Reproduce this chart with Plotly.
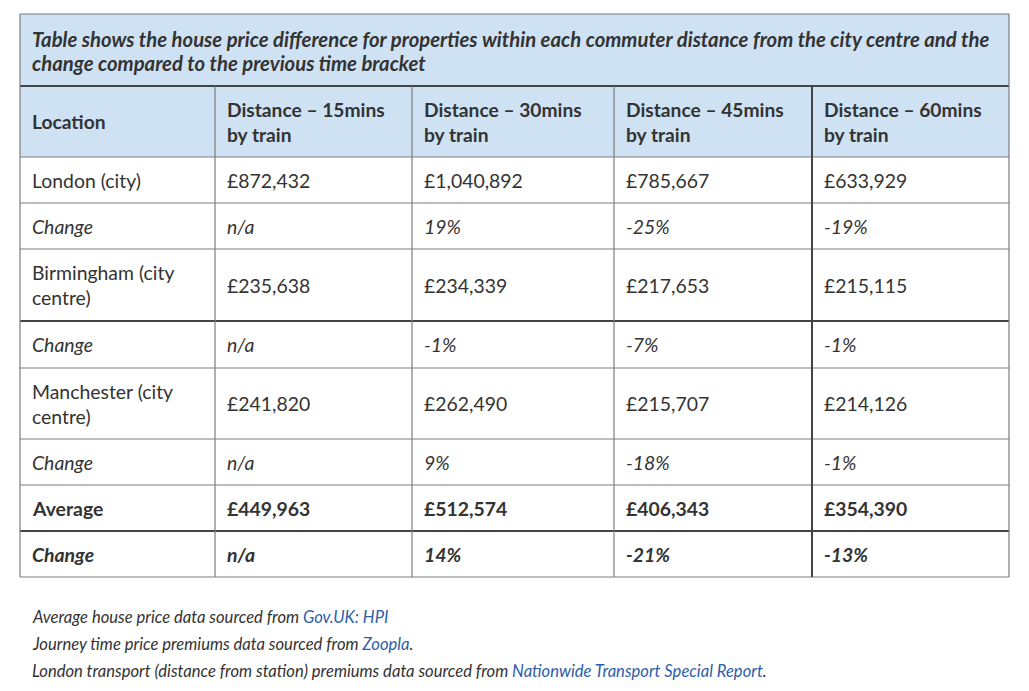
import plotly.graph_objects as go

# ---------------- data ----------------
title_lines = [
    "Table shows the house price difference for properties within each commuter distance from the city centre and the",
    "change compared to the previous time bracket",
]
header = ["Location", "Distance – 15mins\nby train", "Distance – 30mins\nby train",
          "Distance – 45mins\nby train", "Distance – 60mins\nby train"]
row_labels = ["London (city)", "Change", "Birmingham (city\ncentre)", "Change",
              "Manchester (city\ncentre)", "Change", "Average", "Change"]
col_15 = ["£872,432", "n/a", "£235,638", "n/a", "£241,820", "n/a", "£449,963", "n/a"]
col_30 = ["£1,040,892", "19%", "£234,339", "-1%", "£262,490", "9%", "£512,574", "14%"]
col_45 = ["£785,667", "-25%", "£217,653", "-7%", "£215,707", "-18%", "£406,343", "-21%"]
col_60 = ["£633,929", "-19%", "£215,115", "-1%", "£214,126", "-1%", "£354,390", "-13%"]
row_style = ["normal", "italic", "normal", "italic", "normal", "italic", "bold", "bolditalic"]
footnotes = [
    ("Average house price data sourced from ", "Gov.UK: HPI", ""),
    ("Journey time price premiums data sourced from ", "Zoopla", "."),
    ("London transport (distance from station) premiums data sourced from ", "Nationwide Transport Special Report", "."),
]

# ---------------- layout / style ----------------
OFF = 8  # page body margin
W, H = 1029 - OFF, 691 - OFF
FONT = "Lato"
TXT = "#333333"
LINK = "#2d5ea8"
HEAD_BG = "#cfe2f3"
GREY = "#7c7c7c"
DARK = "#444444"
col_edges = [x - OFF for x in [20, 215, 412, 614, 812, 1009]]
title_top, title_bot = 14 - OFF, 86 - OFF
head_bot = 157 - OFF
row_heights = [46, 46, 72, 47, 71, 46, 46, 46]
dark_h_after = {2, 6}
dark_v = {4}
PAD = 10
LH = 25
FS_BODY = 19.4
FS_HEAD = 19.2
FS_TITLE = 20.3
FS_FOOT = 16.6
title_y0, title_lh = 39 - OFF, 24
foot_y0, foot_lh = 617 - OFF, 27

columns = [row_labels, col_15, col_30, col_45, col_60]

fig = go.Figure()
shapes = []
ann = []

row_edges = [head_bot]
for h in row_heights:
    row_edges.append(row_edges[-1] + h)
bottom = row_edges[-1]

shapes.append(dict(type="rect", x0=col_edges[0], x1=col_edges[-1], y0=title_top, y1=head_bot,
                   fillcolor=HEAD_BG, line=dict(width=0), layer="below"))


def hline(y, c, w):
    shapes.append(dict(type="line", x0=col_edges[0], x1=col_edges[-1], y0=y, y1=y,
                       line=dict(color=c, width=w)))


def vline(x, y0, y1, c, w):
    shapes.append(dict(type="line", x0=x, x1=x, y0=y0, y1=y1, line=dict(color=c, width=w)))


hline(title_top, GREY, 1.2)
hline(title_bot, DARK, 2)
for i, y in enumerate(row_edges):
    if i > 0 and (i - 1) in dark_h_after:
        hline(y, DARK, 2)
    else:
        hline(y, GREY, 1.2)
vline(col_edges[0], title_top, bottom, GREY, 1.2)
vline(col_edges[-1], title_top, bottom, GREY, 1.2)
for j in range(1, len(col_edges) - 1):
    vline(col_edges[j], title_bot, bottom, DARK if j in dark_v else GREY, 2 if j in dark_v else 1.2)


def add_text(x, yc, text, style, size, color=TXT):
    lines = text.split("\n")
    n = len(lines)
    for k, ln in enumerate(lines):
        y = yc + (k - (n - 1) / 2) * LH
        t = ln
        if style in ("bold", "bolditalic"):
            t = "<b>" + t + "</b>"
        if style in ("italic", "bolditalic"):
            t = "<i>" + t + "</i>"
        ann.append(dict(x=x, y=y, xref="x", yref="y", text=t, showarrow=False,
                        xanchor="left", yanchor="middle",
                        font=dict(family=FONT, size=size, color=color)))


for k, ln in enumerate(title_lines):
    ann.append(dict(x=col_edges[0] + PAD, y=title_y0 + k * title_lh, xref="x", yref="y",
                    text="<b><i>" + ln + "</i></b>", showarrow=False,
                    xanchor="left", yanchor="middle",
                    font=dict(family=FONT, size=FS_TITLE, color=TXT)))

hy = (title_bot + head_bot) / 2
for j, h in enumerate(header):
    add_text(col_edges[j] + PAD, hy, h, "bold", FS_HEAD)

for i in range(len(row_labels)):
    yc = (row_edges[i] + row_edges[i + 1]) / 2
    for j, col in enumerate(columns):
        add_text(col_edges[j] + PAD, yc, col[i], row_style[i], FS_BODY)

for k, (a, link, b) in enumerate(footnotes):
    t = "<i>" + a + "<span style='color:%s'>" % LINK + link + "</span>" + b + "</i>"
    ann.append(dict(x=col_edges[0] + PAD, y=foot_y0 + k * foot_lh, xref="x", yref="y", text=t,
                    showarrow=False, xanchor="left", yanchor="middle",
                    font=dict(family=FONT, size=FS_FOOT, color=TXT)))

fig.update_layout(
    width=W, height=H, margin=dict(l=0, r=0, t=0, b=0),
    paper_bgcolor="white", plot_bgcolor="white",
    xaxis=dict(range=[0, W], visible=False, fixedrange=True),
    yaxis=dict(range=[H, 0], visible=False, fixedrange=True),
    shapes=shapes, annotations=ann, showlegend=False,
)
fig.write_html("out.html", config={"displayModeBar": False})
